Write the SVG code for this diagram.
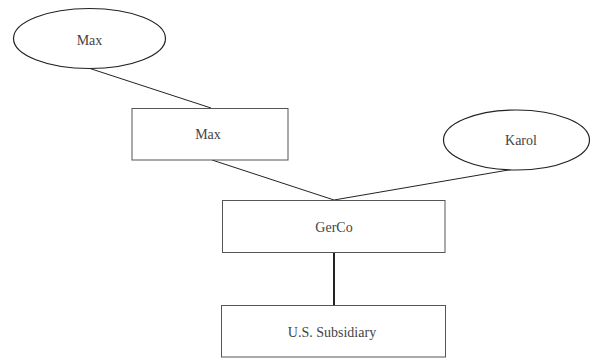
<svg xmlns="http://www.w3.org/2000/svg" width="591" height="359" viewBox="0 0 591 359">
<style>
.n{fill:#fff;stroke:#555;stroke-width:1}
.e{fill:#fff;stroke:#222;stroke-width:1.2}
.t{font-family:"Liberation Serif",serif;font-size:14px;fill:#444;text-anchor:middle;dominant-baseline:central}
.c{stroke:#222;stroke-width:1;fill:none}
.thick{stroke-width:2}
</style>
<rect width="591" height="359" fill="#fff"/>
<g id="connectors">
<line class="c" x1="90" y1="68.5" x2="211" y2="108"/>
<line class="c" x1="212" y1="160" x2="334" y2="200"/>
<line class="c" x1="520" y1="168" x2="334" y2="200"/>
<line class="c thick" x1="334" y1="253" x2="334" y2="305"/>
</g>
<g id="maxPerson">
<ellipse class="e" cx="89.5" cy="38.5" rx="76" ry="30"/>
<text class="t" x="89.5" y="40">Max</text>
</g>
<g id="maxEntity">
<rect class="n" x="132" y="108.5" width="156" height="51.5"/>
<text class="t" x="208" y="134">Max</text>
</g>
<g id="karol">
<ellipse class="e" cx="516.5" cy="140" rx="73" ry="30"/>
<text class="t" x="521" y="140">Karol</text>
</g>
<g id="gerco">
<rect class="n" x="222.5" y="200.5" width="222.5" height="52"/>
<text class="t" x="334" y="227">GerCo</text>
</g>
<g id="ussub">
<rect class="n" x="221.5" y="305.5" width="224" height="51.5"/>
<text class="t" x="332" y="332">U.S. Subsidiary</text>
</g>
</svg>
